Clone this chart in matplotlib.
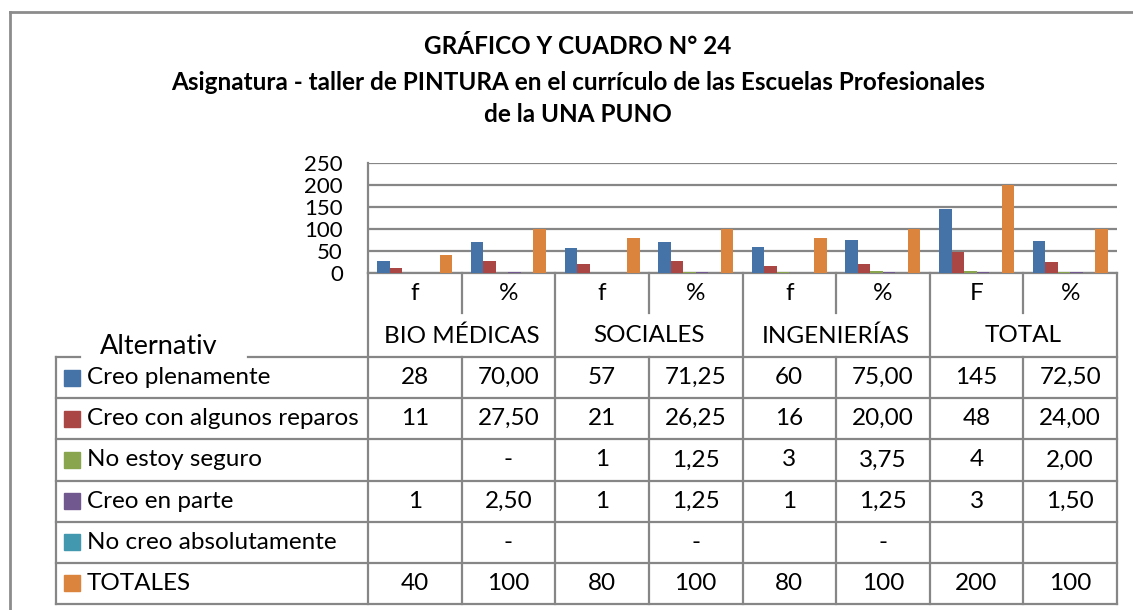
import numpy as np
import matplotlib
matplotlib.use("Agg")
import matplotlib.pyplot as plt
from matplotlib.patches import Rectangle

plt.rcParams['font.family'] = ['Lato', 'DejaVu Sans']

# data as printed in the table
title_lines = ["GRÁFICO Y CUADRO N° 24",
               "Asignatura - taller de PINTURA en el currículo de las Escuelas Profesionales",
               "de la UNA PUNO"]
groups = ["BIO MÉDICAS", "SOCIALES", "INGENIERÍAS", "TOTAL"]
col_headers = ["f", "%", "f", "%", "f", "%", "F", "%"]
series_names = ["Creo plenamente", "Creo con algunos reparos", "No estoy seguro",
                "Creo en parte", "No creo absolutamente", "TOTALES"]
creo_plenamente = ["28", "70,00", "57", "71,25", "60", "75,00", "145", "72,50"]
creo_reparos = ["11", "27,50", "21", "26,25", "16", "20,00", "48", "24,00"]
no_seguro = ["", "-", "1", "1,25", "3", "3,75", "4", "2,00"]
creo_parte = ["1", "2,50", "1", "1,25", "1", "1,25", "3", "1,50"]
no_creo = ["", "-", "", "-", "", "-", "", ""]
totales = ["40", "100", "80", "100", "80", "100", "200", "100"]
yticks = [0, 50, 100, 150, 200, 250]
colors = ["#4572A7", "#AA4643", "#89A54E", "#71588F", "#4198AF", "#DB843D"]

rows = [creo_plenamente, creo_reparos, no_seguro, creo_parte, no_creo, totales]


def to_num(s):
    if s in ("", "-"):
        return 0.0
    return float(s.replace(",", "."))


W, H = 1133, 610
fig = plt.figure(figsize=(W / 100, H / 100), dpi=100)

# background axes in pixel coordinates for the frame, title and table
bg = fig.add_axes([0, 0, 1, 1])
bg.set_xlim(0, W)
bg.set_ylim(H, 0)
bg.axis("off")

grid_c = "#868686"
fs = 17.5

# outer frame
bg.plot([10, 10], [12, H], color="#8c8c8c", lw=2)
bg.plot([10, W], [12, 12], color="#8c8c8c", lw=2)

for line, y in zip(title_lines, [47, 82, 115]):
    bg.text(578, y, line, ha="center", va="center", fontsize=17.5, fontweight="bold")

# plot area
x0, x1, ytop, ybot = 368, 1117, 163, 273
ax = fig.add_axes([x0 / W, 1 - ybot / H, (x1 - x0) / W, (ybot - ytop) / H])
n_cat = len(col_headers)
n_ser = len(series_names)
w = 1 / (n_ser + 1.5)
x = np.arange(n_cat)
for i, (vals, c) in enumerate(zip(rows, colors)):
    off = -0.5 + 0.75 * w + (i + 0.5) * w
    ax.bar(x + off, [to_num(v) for v in vals], width=w, color=c, zorder=3)

ax.set_xlim(-0.5, n_cat - 0.5)
ax.set_ylim(0, 250)
ax.set_yticks(yticks)
ax.set_yticklabels([str(t) for t in yticks], fontsize=16)
ax.tick_params(axis="y", length=0, pad=18)
ax.set_xticks([])
ax.yaxis.grid(True, color=grid_c, lw=1.6)
ax.set_axisbelow(True)
for s in ["top", "right"]:
    ax.spines[s].set_visible(False)
ax.spines["left"].set_color(grid_c)
ax.spines["left"].set_linewidth(1.6)
ax.spines["bottom"].set_color(grid_c)
ax.spines["bottom"].set_linewidth(1.6)
ax.patch.set_alpha(0)

# table below the axis
col_w = (x1 - x0) / n_cat
edges = [x0 + k * col_w for k in range(n_cat + 1)]
row_top = 357
row_h = (604 - row_top) / len(series_names)
tab_left = 56

for k, ex in enumerate(edges):
    if k % 2 == 0:
        bg.plot([ex, ex], [ybot, 604], color=grid_c, lw=1.6)
    else:
        bg.plot([ex, ex], [ybot, 313], color=grid_c, lw=1.6)
        bg.plot([ex, ex], [row_top, 604], color=grid_c, lw=1.6)

bg.plot([tab_left, tab_left], [row_top, 604], color=grid_c, lw=1.6)
bg.plot([tab_left, 80], [row_top, row_top], color=grid_c, lw=1.6)
bg.plot([248, x1], [row_top, row_top], color=grid_c, lw=1.6)
for r in range(1, len(series_names) + 1):
    yy = row_top + r * row_h
    bg.plot([tab_left, x1], [yy, yy], color=grid_c, lw=1.6)

for k, h in enumerate(col_headers):
    bg.text((edges[k] + edges[k + 1]) / 2, 294, h, ha="center", va="center", fontsize=fs)
for g, name in enumerate(groups):
    bg.text((edges[2 * g] + edges[2 * g + 2]) / 2, 336, name, ha="center", va="center", fontsize=fs)

bg.text(100, 347, "Alternativ", ha="left", va="center", fontsize=19.5)

for r, (name, vals, c) in enumerate(zip(series_names, rows, colors)):
    yc = row_top + (r + 0.5) * row_h
    bg.add_patch(Rectangle((64, yc - 8), 16, 16, color=c))
    bg.text(87, yc, name, ha="left", va="center", fontsize=fs)
    for k, v in enumerate(vals):
        bg.text((edges[k] + edges[k + 1]) / 2, yc, v, ha="center", va="center", fontsize=fs)

fig.savefig("out.png", dpi=100)
